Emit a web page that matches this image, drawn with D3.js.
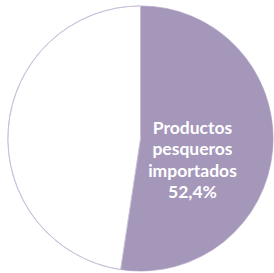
<!DOCTYPE html>
<html>
<head>
<meta charset="utf-8">
<script src="https://cdn.jsdelivr.net/npm/d3@7"></script>
<style>
  html, body { margin: 0; padding: 0; background: #fff; }
  svg { display: block; }
</style>
</head>
<body>
<div id="chart"></div>
<script>
// slice data
const categories = ["Productos pesqueros importados", "Otros"];
const values = [52.4, 47.6];
const labels = [["Productos", "pesqueros", "importados", "52,4%"], []];
const colors = ["#a597ba", "#ffffff"];

const width = 274, height = 273;
const cx = 140.5, cy = 138.5, radius = 132.5;

const svg = d3.select("#chart").append("svg")
    .attr("width", width)
    .attr("height", height);

const g = svg.append("g").attr("transform", `translate(${cx},${cy})`);

const pie = d3.pie().sort(null).value(d => d.value);
const arc = d3.arc().innerRadius(0).outerRadius(radius);

const data = categories.map((c, i) => ({ name: c, value: values[i], lines: labels[i], color: colors[i] }));
const arcs = pie(data);

// outline circle behind slices
g.append("circle")
    .attr("r", radius)
    .attr("fill", "none")
    .attr("stroke", "#c9c0d8")
    .attr("stroke-width", 1.2);

g.selectAll("path.slice")
    .data(arcs)
    .join("path")
    .attr("class", "slice")
    .attr("d", arc)
    .attr("fill", d => d.data.color)
    .attr("stroke", d => d.data.color === "#ffffff" ? "#c9c0d8" : "none")
    .attr("stroke-width", 1);

// label inside the purple slice
const lab = g.append("text")
    .attr("x", 52)
    .attr("y", -4.5)
    .attr("text-anchor", "middle")
    .attr("fill", "#ffffff")
    .style("font-family", "Lato, 'Open Sans', sans-serif")
    .style("font-weight", "bold")
    .style("font-size", "17.5px");

lab.selectAll("tspan")
    .data(arcs[0].data.lines)
    .join("tspan")
    .attr("x", 52)
    .attr("dy", (d, i) => i === 0 ? 0 : 21.3)
    .text(d => d);
</script>
</body>
</html>
